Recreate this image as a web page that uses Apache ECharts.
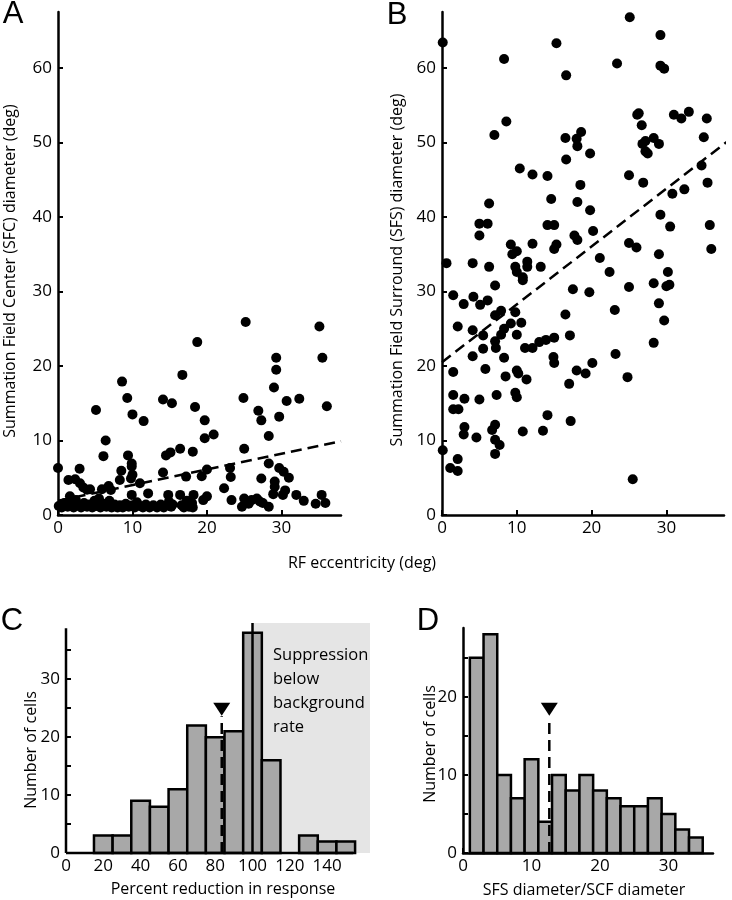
<!DOCTYPE html>
<html>
<head>
<meta charset="utf-8">
<script src="https://cdn.jsdelivr.net/npm/echarts@6/dist/echarts.min.js"></script>
<style>html,body{margin:0;padding:0;background:#fff}#c{width:732px;height:900px}</style>
</head>
<body>
<div id="c"></div>
<script>
// ---- Panel A: SFC diameter vs RF eccentricity ----
const sfcPoints = [
[0,6.3],[1.4,4.7],[2.3,4.8],[2.9,6.2],[2.95,4.25],[3.4,3.7],[3.9,3.4],[4.3,3.45],[5.1,14.1],[5.9,3.45],[6.1,7.9],[6.4,10.0],[6.8,3.9],[7.1,3.35],[8.3,4.7],[8.5,5.95],[8.6,17.9],[9.3,15.7],[9.4,8.0],[9.8,4.9],[9.9,6.9],[9.9,6.5],[10.0,5.4],[10.0,13.5],[11.0,4.25],[11.5,12.6],[12.1,2.9],[14.1,15.5],[14.1,5.7],[14.5,8.0],[15.1,8.4],[15.3,15.0],[16.4,8.9],[16.7,18.8],[17.2,5.15],[18.1,8.5],[18.4,14.5],[18.7,23.2],[19.3,5.2],[19.7,12.7],[19.7,10.3],[20.0,6.1],[20.9,10.8],[22.3,3.6],[23.1,6.3],[23.2,5.1],[24.9,15.7],[25.0,8.9],[25.2,25.9],[26.9,14.0],[27.3,12.7],[27.3,4.9],[28.3,10.6],[28.3,6.9],[29.0,17.1],[29.3,21.1],[29.3,19.5],[29.1,4.5],[29.1,3.8],[29.7,13.2],[29.7,6.3],[30.3,5.8],[30.7,15.3],[31.0,5.0],[30.5,3.3],[32.4,15.6],[35.1,25.3],[35.5,21.1],[36.1,14.6],
[0.1,1.2],[0.5,1.0],[0.9,1.6],[1.3,1.1],[1.6,2.5],[1.7,1.4],[2.1,1.0],[2.4,2.0],[2.7,1.3],[3.1,1.0],[3.5,1.6],[3.9,1.1],[4.2,1.4],[4.6,1.0],[4.9,1.9],[5.2,1.2],[5.5,2.2],[5.7,1.0],[6.1,1.5],[6.5,1.1],[6.9,1.9],[7.2,1.0],[7.6,1.4],[8.0,1.0],[8.3,1.3],[8.7,1.0],[9.1,1.5],[9.5,1.1],[9.9,2.7],[10.0,1.3],[10.3,1.0],[10.6,1.7],[11.0,1.2],[11.4,1.0],[11.8,1.4],[12.3,1.0],[12.8,1.3],[13.3,1.0],[13.8,1.4],[14.2,1.0],[14.8,2.7],[14.9,1.8],[15.2,1.1],[15.4,1.4],[16.4,2.7],[16.6,1.3],[16.9,1.0],[17.3,1.9],[17.6,1.1],[18.0,1.6],[18.1,1.0],[18.2,2.7],[19.5,2.0],[20.0,2.5],[23.3,2.0],[24.7,1.1],[25.0,2.2],[25.6,1.5],[26.0,2.0],[26.7,2.2],[27.1,1.8],[27.5,1.6],[28.3,1.1],[28.9,2.8],[30.2,2.7],[32.0,2.7],[33.0,1.9],[34.6,1.5],[35.4,2.7],[35.9,1.6]
];
const sfcFit = [[0,1.9],[38,9.9]];

// ---- Panel B: SFS diameter vs RF eccentricity ----
const sfsPoints = [
[0.1,63.4],[0.6,33.8],[8.3,61.2],[8.6,52.8],[7.0,51.0],[5.0,39.1],[6.1,39.1],[5.0,37.5],[6.3,41.8],[6.3,33.3],[4.1,33.8],[7.1,30.8],[9.2,36.3],[9.4,35.0],[10.0,35.4],[9.8,33.3],[10.0,32.6],[10.8,31.9],[11.4,34.0],[11.4,33.3],[10.4,46.5],[12.1,45.7],[12.1,36.4],[13.2,33.3],[14.1,45.5],[14.6,42.4],[14.1,38.9],[15.0,38.9],[15.0,35.7],[15.3,36.3],[15.3,63.3],[16.6,59.0],[16.5,50.6],[16.6,47.7],[18.0,50.5],[18.1,49.5],[18.6,51.4],[18.5,44.3],[18.1,42.0],[17.7,37.5],[18.1,36.9],[19.8,48.5],[19.8,40.9],[20.2,38.1],[21.1,34.5],[22.4,32.6],[17.5,30.3],[19.7,29.9],[23.4,60.6],[25.1,66.8],[25.0,45.6],[25.0,36.5],[26.0,35.9],[25.0,30.6],[26.1,53.7],[26.3,53.9],[26.7,52.3],[26.8,49.8],[27.2,50.2],[27.2,48.8],[27.5,48.5],[28.3,50.6],[29.0,49.8],[26.9,44.6],[28.3,31.1],[29.2,40.3],[29.0,35.0],[29.2,64.4],[29.2,60.3],[29.7,59.9],[30.2,32.6],[30.0,30.7],[30.4,30.9],[30.5,38.7],[30.8,43.1],[31.0,53.7],[32.0,53.2],[33.0,54.1],[32.4,43.7],[34.7,46.9],[35.0,50.7],[35.4,53.2],[35.5,44.6],[35.8,38.9],[36.0,35.7],
[1.5,29.5],[2.9,28.3],[4.2,29.3],[5.1,28.2],[6.1,28.8],[2.1,25.3],[4.1,24.8],[5.5,24.1],[5.5,22.3],[7.1,23.3],[7.2,22.4],[7.1,26.8],[7.9,27.4],[8.3,25.0],[7.9,24.2],[9.2,25.7],[9.8,27.2],[10.0,24.2],[10.6,25.8],[11.1,22.4],[12.1,22.4],[13.0,23.2],[13.9,23.5],[15.0,23.8],[14.9,21.2],[15.0,20.4],[17.1,24.1],[16.5,26.9],[4.1,21.3],[5.8,19.6],[1.5,19.2],[1.5,16.1],[3.0,15.6],[5.0,15.5],[7.3,16.1],[8.3,21.1],[8.5,18.6],[10.0,19.4],[10.2,19.0],[11.3,18.2],[9.8,16.4],[10.0,15.8],[1.5,14.2],[2.2,14.2],[3.0,11.8],[2.9,10.8],[4.6,10.4],[6.7,11.4],[7.1,12.1],[7.1,10.1],[7.7,9.4],[7.1,8.2],[10.8,11.2],[13.5,11.3],[14.1,13.4],[17.2,12.6],[17.0,17.6],[18.0,19.4],[19.2,19.0],[20.1,20.4],[23.1,27.5],[23.2,21.6],[24.8,18.5],[28.3,23.1],[29.0,28.4],[29.7,26.1],[0.1,8.7],[1.1,6.3],[2.1,7.5],[2.1,5.9],[25.5,4.8],[10.8,31.5]
];
const sfsFit = [[0,20.5],[38.5,50.4]];

const scatterYTicks = [0,10,20,30,40,50,60];
const scatterXTicks = [0,10,20,30];

// ---- Panel C: percent reduction histogram ----
const redBinStart = [15,25,35,45,55,65,75,85,95,105,115,125,135,145];
const redBinEnd   = [25,35,45,55,65,75,85,95,105,115,125,135,145,155];
const redCounts   = [3,3,9,8,11,22,20,21,38,16,0,3,2,2];
const redMedian = 83.5;
const redMedianTop = 23.6;
const redMarker = 24.8;
const redThreshold = 100;
const redShade = [[100,163,39.7]];
const redXTicks = [0,20,40,60,80,100,120,140];
const redYTicks = [0,5,10,15,20,25,30,35];
const redYLabels = [0,10,20,30];

// ---- Panel D: SFS/SFC ratio histogram ----
const ratioBinStart = [1,3,5,7,9,11,13,15,17,19,21,23,25,27,29,31,33];
const ratioBinEnd   = [3,5,7,9,11,13,15,17,19,21,23,25,27,29,31,33,35];
const ratioCounts   = [25,28,10,7,12,4,10,8,10,8,7,6,6,7,5,3,2];
const ratioMedian = 12.6;
const ratioMedianTop = 17.4;
const ratioMarker = 18.4;
const ratioXTicks = [0,10,20,30];
const ratioYTicks = [0,5,10,15,20,25];
const ratioYLabels = [0,10,20];

const FONT = 'Open Sans';
const LBL = {color:'#000', fontSize:17, fontFamily:FONT};

function xAx(grid, max, ticks, labels, showLine){
  return {type:'value', gridIndex:grid, min:0, max:max, splitLine:{show:false},
    axisLine:{show:showLine!==false, onZero:false, lineStyle:{color:'#000', width:2.5}},
    axisTick:{show:true, inside:true, length:5, lineStyle:{color:'#000', width:2}, customValues:ticks},
    axisLabel:Object.assign({margin:5, customValues:labels||ticks}, LBL)};
}
function yAx(grid, max, ticks, labels, showLine){
  return {type:'value', gridIndex:grid, min:0, max:max, splitLine:{show:false},
    axisLine:{show:showLine!==false, onZero:false, lineStyle:{color:'#000', width:2.5}},
    axisTick:{show:true, inside:true, length:5, lineStyle:{color:'#000', width:2}, customValues:ticks},
    axisLabel:Object.assign({margin:6, customValues:labels||ticks}, LBL)};
}
function hist(xi, starts, ends, counts, fill){
  return {type:'custom', xAxisIndex:xi, yAxisIndex:xi, z:3, clip:false,
    data: starts.map((s,i)=>[s, ends[i], counts[i]]).filter(d=>d[2]>0),
    renderItem:(params, api)=>{
      const p0 = api.coord([api.value(0), 0]);
      const p1 = api.coord([api.value(1), api.value(2)]);
      return {type:'rect', shape:{x:p0[0], y:p1[1], width:p1[0]-p0[0], height:p0[1]-p1[1]},
        style:{fill:fill, stroke:'#000', lineWidth:2.5}};
    }};
}
function seg(xi, pts, dashed, z){
  return {type:'line', xAxisIndex:xi, yAxisIndex:xi, data:pts, symbol:'none', clip:false, z:z||4, silent:true,
    lineStyle:{color:'#000', width:2.5, opacity:1, type: dashed ? [11,6] : 'solid'}};
}
function tri(xi, x, y){
  return {type:'scatter', xAxisIndex:xi, yAxisIndex:xi, data:[[x,y]], symbol:'triangle', symbolRotate:180,
    symbolSize:[17,13], clip:false, z:6, itemStyle:{color:'#000', opacity:1}};
}
function dots(xi, pts){
  return {type:'scatter', xAxisIndex:xi, yAxisIndex:xi, data:pts, symbolSize:10, clip:false, z:3,
    itemStyle:{color:'#000', opacity:1}};
}

const chart = echarts.init(document.getElementById('c'), null, {renderer:'canvas'});
const TF = '16px "Open Sans"';
const LF = '31px "Liberation Sans"';
function txt(x, y, s, font, rot){
  return {type:'text', x:x, y:y, rotation:rot||0, z:10,
    style:{text:s, font:font, fill:'#000', textAlign:'center', textVerticalAlign:'middle'}};
}
chart.setOption({
  animation:false,
  textStyle:{fontFamily:FONT},
  grid:[
    {left:58, top:12, width:283, height:503},
    {left:442, top:12, width:282, height:503},
    {left:66, top:623, width:304, height:230},
    {left:463, top:628, width:250, height:225}
  ],
  xAxis:[
    xAx(0, 38, scatterXTicks),
    xAx(1, 37.7, scatterXTicks),
    xAx(2, 163, redXTicks, redXTicks, false),
    xAx(3, 36.5, ratioXTicks)
  ],
  yAxis:[
    yAx(0, 67.5, scatterYTicks),
    yAx(1, 67.5, scatterYTicks),
    yAx(2, 39.7, redYTicks, redYLabels, false),
    yAx(3, 28.8, ratioYTicks, ratioYLabels)
  ],
  series:[
    dots(0, sfcPoints),
    seg(0, sfcFit, true),
    dots(1, sfsPoints),
    seg(1, sfsFit, true),
    {type:'custom', xAxisIndex:2, yAxisIndex:2, z:1, clip:false, data:redShade,
      renderItem:(params, api)=>{
        const p0 = api.coord([api.value(0), 0]);
        const p1 = api.coord([api.value(1), api.value(2)]);
        return {type:'rect', shape:{x:p0[0], y:p1[1], width:p1[0]-p0[0], height:p0[1]-p1[1]}, style:{fill:'#e5e5e5'}};
      }},
    hist(2, redBinStart, redBinEnd, redCounts, '#a8a8a8'),
    seg(2, [[redThreshold,0],[redThreshold,39.7]], false, 5),
    seg(2, [[redMedian,0],[redMedian,redMedianTop]], true, 5),
    tri(2, redMedian, redMarker),
    seg(2, [[0,0],[154,0]], false, 5),
    seg(2, [[0,0],[0,38.8]], false, 5),
    hist(3, ratioBinStart, ratioBinEnd, ratioCounts, '#a8a8a8'),
    seg(3, [[ratioMedian,0],[ratioMedian,ratioMedianTop]], true, 5),
    tri(3, ratioMedian, ratioMarker)
  ],
  graphic:[
    txt(13, 14, 'A', LF),
    txt(397, 15, 'B', LF),
    txt(12, 621, 'C', LF),
    txt(428, 621, 'D', LF),
    txt(10, 271, 'Summation Field Center (SFC) diameter (deg)', TF, Math.PI/2),
    txt(397, 270, 'Summation Field Surround (SFS) diameter (deg)', TF, Math.PI/2),
    txt(362, 563, 'RF eccentricity (deg)', TF),
    txt(31, 750, 'Number of cells', TF, Math.PI/2),
    txt(430, 744, 'Number of cells', TF, Math.PI/2),
    txt(223, 889, 'Percent reduction in response', TF),
    txt(584, 890, 'SFS diameter/SCF diameter', TF),
    {type:'text', x:273, y:643, z:10, style:{text:'Suppression\nbelow\nbackground\nrate', font:'16.5px "Open Sans"', lineHeight:24, fill:'#000', textAlign:'left', textVerticalAlign:'top'}}
  ]
});
</script>
</body>
</html>
